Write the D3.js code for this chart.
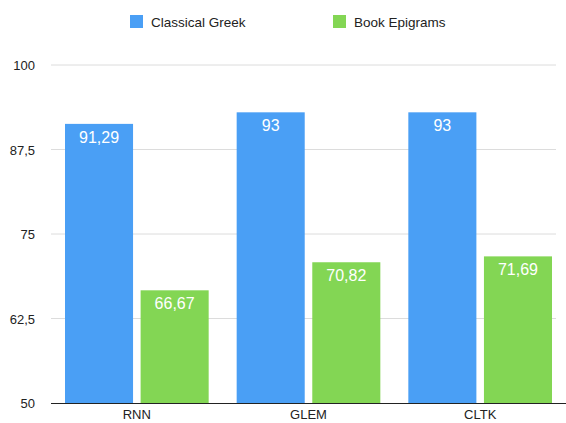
<!DOCTYPE html>
<html>
<head>
<meta charset="utf-8">
<script src="https://cdn.jsdelivr.net/npm/d3@7"></script>
<style>
  body { margin: 0; background: #fff; }
  text { font-family: "Liberation Sans", Arial, sans-serif; }
</style>
</head>
<body>
<div id="chart"></div>
<script>
var categories = ["RNN", "GLEM", "CLTK"];
var seriesNames = ["Classical Greek", "Book Epigrams"];
var classicalGreek = [91.29, 93, 93];
var bookEpigrams = [66.67, 70.82, 71.69];
var yTicks = [50, 62.5, 75, 87.5, 100];
var colors = ["#4a9ff5", "#83d654"];

var width = 566, height = 423;
var margin = {top: 65, right: 0, bottom: 20, left: 51};

var svg = d3.select("#chart").append("svg")
    .attr("width", width)
    .attr("height", height);

var x = d3.scaleBand()
    .domain(categories)
    .range([margin.left, width - margin.right])
    .paddingInner(0)
    .paddingOuter(0);

var x1 = d3.scaleBand()
    .domain(seriesNames)
    .range([14, x.bandwidth() - 14])
    .paddingInner(0.1);

var y = d3.scaleLinear()
    .domain([50, 100])
    .range([403, margin.top]);

var fmt = function (v) { return String(v).replace(".", ","); };

// grid lines
svg.append("g")
    .selectAll("line")
    .data(yTicks.slice(1))
    .enter().append("line")
    .attr("x1", margin.left)
    .attr("x2", 556)
    .attr("y1", function (d) { return y(d); })
    .attr("y2", function (d) { return y(d); })
    .attr("stroke", "#dcdcdc")
    .attr("stroke-width", 1);

// y tick labels
svg.append("g")
    .selectAll("text")
    .data(yTicks)
    .enter().append("text")
    .attr("x", 35)
    .attr("y", function (d) { return y(d) + 5; })
    .attr("text-anchor", "end")
    .attr("font-size", "13px")
    .attr("fill", "#222")
    .text(fmt);

var rows = categories.map(function (c, i) {
    return {cat: c, values: [classicalGreek[i], bookEpigrams[i]]};
});

var groups = svg.selectAll(".group")
    .data(rows)
    .enter().append("g")
    .attr("class", "group")
    .attr("transform", function (d) { return "translate(" + x(d.cat) + ",0)"; });

groups.selectAll("rect")
    .data(function (d) { return d.values.map(function (v, j) { return {s: seriesNames[j], v: v, j: j}; }); })
    .enter().append("rect")
    .attr("x", function (d) { return x1(d.s); })
    .attr("width", x1.bandwidth())
    .attr("y", function (d) { return y(d.v); })
    .attr("height", function (d) { return y(50) - y(d.v); })
    .attr("fill", function (d) { return colors[d.j]; });

groups.selectAll(".val")
    .data(function (d) { return d.values.map(function (v, j) { return {s: seriesNames[j], v: v, j: j}; }); })
    .enter().append("text")
    .attr("class", "val")
    .attr("x", function (d) { return x1(d.s) + x1.bandwidth() / 2; })
    .attr("y", function (d) { return y(d.v) + 19; })
    .attr("text-anchor", "middle")
    .attr("font-size", "16px")
    .attr("fill", "#fff")
    .text(function (d) { return fmt(d.v); });

// x axis line
svg.append("line")
    .attr("x1", margin.left)
    .attr("x2", width)
    .attr("y1", y(50) + 0.5)
    .attr("y2", y(50) + 0.5)
    .attr("stroke", "#222")
    .attr("stroke-width", 1);

// category labels
svg.append("g")
    .selectAll("text")
    .data(categories)
    .enter().append("text")
    .attr("x", function (d) { return x(d) + x.bandwidth() / 2; })
    .attr("y", 419)
    .attr("text-anchor", "middle")
    .attr("font-size", "13px")
    .attr("fill", "#222")
    .text(function (d) { return d; });

// legend
var legendX = [130, 333];
var legend = svg.selectAll(".legend")
    .data(seriesNames)
    .enter().append("g")
    .attr("class", "legend")
    .attr("transform", function (d, i) { return "translate(" + legendX[i] + ",15)"; });

legend.append("rect")
    .attr("width", 13)
    .attr("height", 13)
    .attr("fill", function (d, i) { return colors[i]; });

legend.append("text")
    .attr("x", 21)
    .attr("y", 12)
    .attr("font-size", "13.5px")
    .attr("fill", "#222")
    .text(function (d) { return d; });
</script>
</body>
</html>
